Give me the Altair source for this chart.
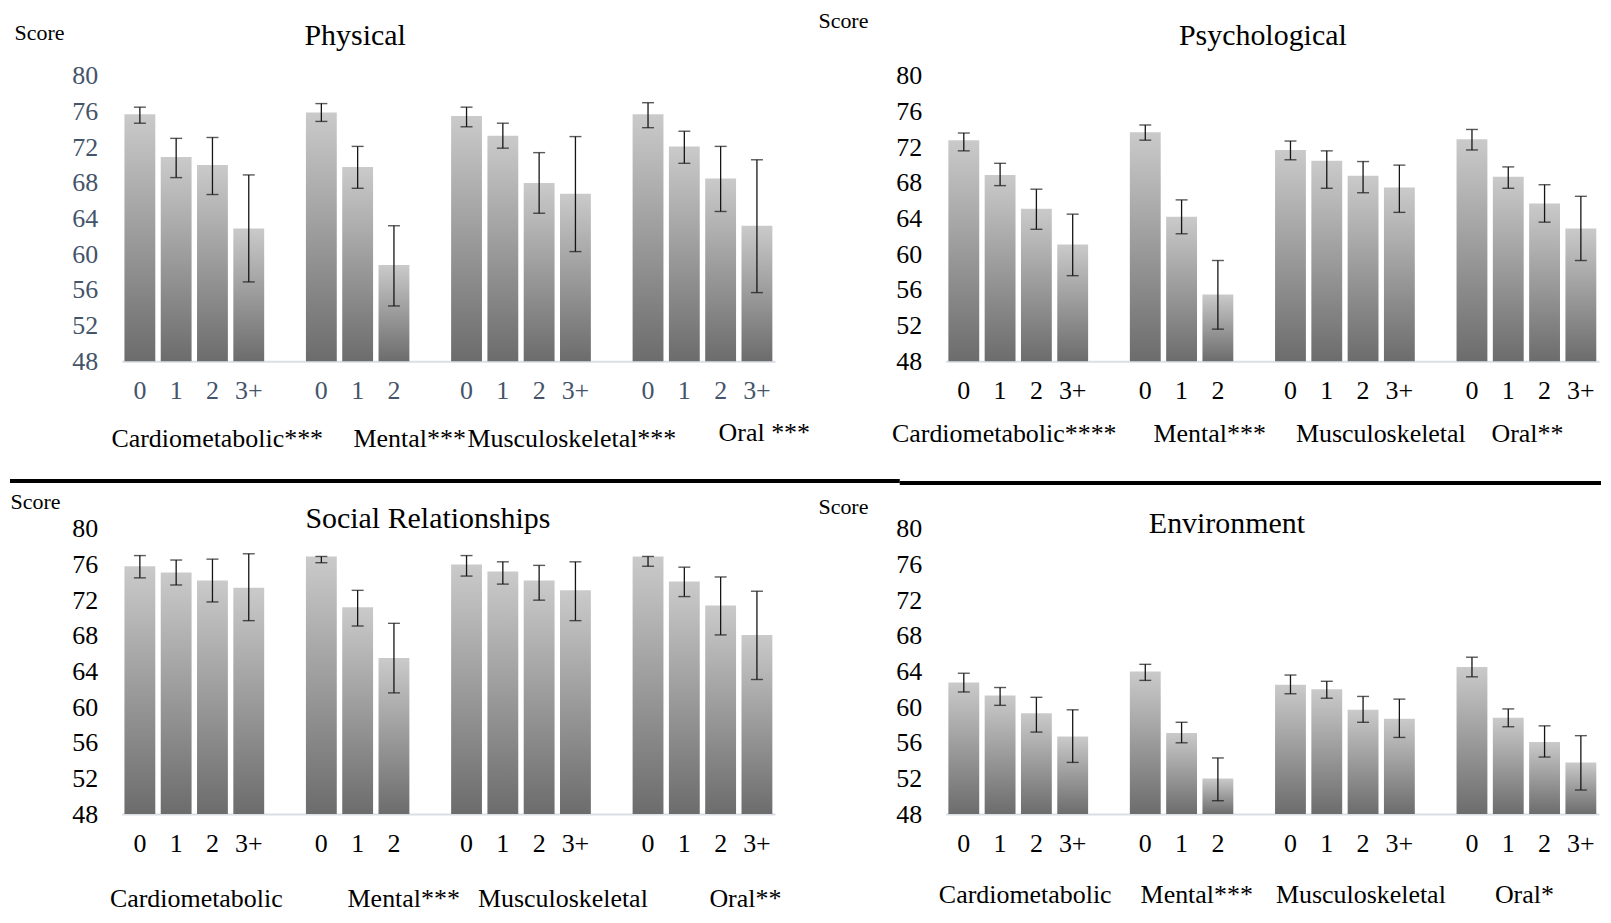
import altair as alt
import pandas as pd

FONT = "Liberation Serif"

# ---------------- data ----------------
slot_domain = ["c:0", "c:1", "c:2", "c:3+", "gap1",
               "m:0", "m:1", "m:2", "m:3+",
               "s:0", "s:1", "s:2", "s:3+", "gap2",
               "o:0", "o:1", "o:2", "o:3+"]
bar_slots = ["c:0", "c:1", "c:2", "c:3+", "m:0", "m:1", "m:2",
             "s:0", "s:1", "s:2", "s:3+", "o:0", "o:1", "o:2", "o:3+"]
group_anchor = ["c:1", "m:1", "s:1", "o:1"]

panel_titles = ["Physical", "Psychological", "Social Relationships", "Environment"]
group_labels = [
    ["Cardiometabolic***", "Mental***", "Musculoskeletal***", "Oral ***"],
    ["Cardiometabolic****", "Mental***", "Musculoskeletal", "Oral**"],
    ["Cardiometabolic", "Mental***", "Musculoskeletal", "Oral**"],
    ["Cardiometabolic", "Mental***", "Musculoskeletal", "Oral*"],
]

phys_mean = [75.7, 70.9, 70.0, 62.9, 75.9, 69.8, 58.8, 75.5, 73.3, 68.0, 66.8, 75.7, 72.1, 68.5, 63.2]
phys_low = [74.7, 68.6, 66.7, 56.9, 74.9, 67.4, 54.2, 74.3, 71.9, 64.6, 60.3, 74.2, 70.2, 64.8, 55.7]
phys_high = [76.5, 73.0, 73.1, 68.9, 76.9, 72.1, 63.2, 76.5, 74.7, 71.4, 73.2, 77.0, 73.8, 72.1, 70.6]

psy_mean = [72.8, 68.9, 65.1, 61.1, 73.7, 64.2, 55.5, 71.7, 70.5, 68.8, 67.5, 72.9, 68.7, 65.7, 62.9]
psy_low = [71.6, 67.7, 62.8, 57.6, 72.8, 62.3, 51.6, 70.6, 67.4, 66.9, 64.7, 71.7, 67.4, 63.6, 59.3]
psy_high = [73.6, 70.2, 67.3, 64.5, 74.5, 66.1, 59.3, 72.7, 71.6, 70.4, 70.0, 74.0, 69.8, 67.8, 66.5]

soc_mean = [75.8, 75.1, 74.2, 73.4, 76.9, 71.2, 65.5, 76.0, 75.2, 74.2, 73.1, 76.9, 74.1, 71.4, 68.1]
soc_low = [74.5, 73.7, 71.8, 69.7, 76.2, 69.1, 61.6, 74.7, 73.8, 72.0, 69.7, 75.8, 72.4, 68.1, 63.1]
soc_high = [77.0, 76.5, 76.6, 77.2, 76.9, 73.1, 69.4, 77.0, 76.3, 75.9, 76.3, 76.9, 75.7, 74.6, 73.0]

env_mean = [62.75, 61.3, 59.3, 56.7, 64.0, 57.1, 52.0, 62.5, 62.0, 59.7, 58.7, 64.5, 58.8, 56.1, 53.8]
env_low = [61.7, 60.2, 57.2, 53.8, 63.0, 56.0, 49.5, 61.5, 61.0, 58.3, 56.6, 63.4, 57.8, 54.4, 50.7]
env_high = [63.8, 62.2, 61.1, 59.7, 64.8, 58.3, 54.3, 63.6, 62.9, 61.2, 60.9, 65.6, 59.8, 57.9, 56.8]

y_ticks = [48, 52, 56, 60, 64, 68, 72, 76, 80]

# ---------------- styling ----------------
W, H = 655, 286
STEP = W / 18.0
label_colors = ["#44546A", "black", "black", "black"]
title_pos = [(234, -40), (318, -40), (307, -10), (282, -5)]
score_pos = [(-108, -44), (-128, -56), (-112, -27), (-128, -22)]
cat_dx = [[23, 34, 51, 62], [-14, 10, 36, 1], [2, 28, 42, 43], [7, -3, 16, -2]]
cat_dy = [[78, 78, 78, 72], [73, 73, 73, 73], [85, 85, 85, 85], [81, 81, 81, 81]]

gradient = alt.Gradient(
    gradient="linear",
    stops=[alt.GradientStop(color="#cacaca", offset=0),
           alt.GradientStop(color="#6c6c6c", offset=1)],
    x1=0, x2=0, y1=0, y2=1,
)

label_expr = ("indexof(datum.value, ':') < 0 || datum.value == 'm:3+' ? '' : "
              "substring(datum.value, indexof(datum.value, ':') + 1)")

xscale = alt.Scale(domain=slot_domain, paddingInner=0.15, paddingOuter=0.075)
yscale = alt.Scale(domain=[48, 80], nice=False, zero=False)


def panel(i, mean, low, high):
    df = pd.DataFrame({"slot": bar_slots, "mean": mean, "low": low, "high": high})
    base = alt.Chart(df)
    x_axis = alt.Axis(title=None, labelExpr=label_expr, labelAngle=0, ticks=False,
                      labelPadding=16, labelFont=FONT, labelFontSize=26,
                      labelColor=label_colors[i], domainColor="#dadee5",
                      domainWidth=2, grid=False, labelOverlap=False)
    y_axis = alt.Axis(values=y_ticks, title="Score", titleAngle=0,
                      titleX=score_pos[i][0], titleY=score_pos[i][1],
                      titleAlign="left", titleBaseline="middle", titleFont=FONT,
                      titleFontSize=22, titleFontWeight="normal", titleColor="black",
                      labelFont=FONT, labelFontSize=26, labelColor=label_colors[i],
                      labelPadding=24, ticks=False, domain=False, grid=False)
    X = alt.X("slot:N", scale=xscale, axis=x_axis)
    bars = base.mark_bar(color=gradient).encode(
        x=X,
        y=alt.Y("mean:Q", scale=yscale, axis=y_axis),
        y2=alt.datum(48),
    )
    rules = base.mark_rule(color="#151515", strokeWidth=1.3).encode(
        x=X,
        y=alt.Y("low:Q", scale=yscale, axis=y_axis),
        y2="high:Q",
    )
    cap_lo = base.mark_tick(color="#151515", thickness=1.4, size=12).encode(
        x=X,
        y=alt.Y("low:Q", scale=yscale, axis=y_axis),
    )
    cap_hi = base.mark_tick(color="#151515", thickness=1.4, size=12).encode(
        x=X,
        y=alt.Y("high:Q", scale=yscale, axis=y_axis),
    )
    layers = [bars, rules, cap_lo, cap_hi]
    for k in range(4):
        tdf = pd.DataFrame({"slot": [group_anchor[k]], "label": [group_labels[i][k]]})
        layers.append(
            alt.Chart(tdf).mark_text(font=FONT, fontSize=26, color="black",
                                     align="center", baseline="middle",
                                     dx=cat_dx[i][k] + STEP / 2).encode(
                x=X,
                y=alt.value(H + cat_dy[i][k]),
                text="label:N",
            )
        )
    tdf = pd.DataFrame({"t": [panel_titles[i]]})
    layers.append(alt.Chart(tdf).mark_text(font=FONT, fontSize=30, color="black",
                                           align="center", baseline="middle").encode(
        x=alt.value(title_pos[i][0]), y=alt.value(title_pos[i][1]), text="t:N"))
    if i == 2:
        one = pd.DataFrame({"a": [0]})
        layers.append(alt.Chart(one).mark_rule(color="black", strokeWidth=4).encode(
            x=alt.value(-112), x2=alt.value(780), y=alt.value(-48)))
        layers.append(alt.Chart(one).mark_rule(color="black", strokeWidth=4).encode(
            x=alt.value(780), x2=alt.value(1483), y=alt.value(-46)))
    return alt.layer(*layers).properties(width=W, height=H)


p1 = panel(0, phys_mean, phys_low, phys_high)
p2 = panel(1, psy_mean, psy_low, psy_high)
p3 = panel(2, soc_mean, soc_low, soc_high)
p4 = panel(3, env_mean, env_low, env_high)

chart = alt.concat(p1, p2, p3, p4, columns=2,
                   spacing={"row": 168, "column": 171},
                   bounds="flush").properties(padding=0, background="white").configure_view(stroke=None)

chart.save("out.html", embed_options={"renderer": "svg", "actions": False})
